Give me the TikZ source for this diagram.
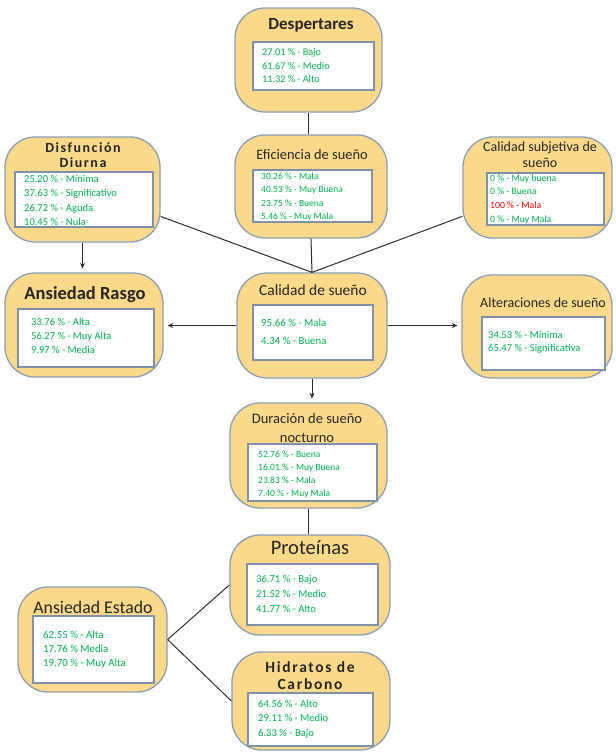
\documentclass[tikz,border=0pt]{standalone}
\usepackage{fontspec}
\setmainfont{Carlito}
\newfontfamily\spacedfont[LetterSpace=11]{Carlito}
\usetikzlibrary{arrows.meta}

\definecolor{panelfill}{RGB}{250,217,138}
\definecolor{panelline}{RGB}{140,158,182}
\definecolor{insetline}{RGB}{128,145,170}
\definecolor{statgreen}{RGB}{0,176,80}
\definecolor{alertred}{RGB}{255,0,0}
\definecolor{linkgray}{RGB}{45,45,45}
\definecolor{titleink}{RGB}{38,38,38}

\tikzset{
  panel/.style={draw=panelline, fill=panelfill, line width=1.3pt, rounded corners=30pt, inner sep=0pt},
  inset/.style={draw=insetline, fill=white, line width=1.1pt, inner sep=0pt},
  title/.style={text=titleink, inner sep=0pt, align=center},
  stat/.style={text=statgreen, inner sep=0pt},
  link/.style={draw=linkgray, line width=1pt},
  arrowlink/.style={link, -{Stealth[length=5.5pt,width=5pt]}, shorten >=4pt}
}

% rows of percentages: name, x, first baseline, spacing, font size, entries
\newcommand\statlist[6]{%
  \foreach \entry [count=\k] in {#6}{%
    \node[stat, font=\fontsize{#5}{#5}\selectfont, anchor=base west] (#1-\k) at (#2,{#3+(\k-1)*#4}) {\entry};%
  }%
}

\begin{document}
\begin{tikzpicture}[x=1pt,y=-1pt]
\useasboundingbox (0,0) rectangle (616,753);

% ---- panels ----
\node[panel, minimum width=147pt, minimum height=104pt] (desp) at (308.5,60) {};
\node[panel, minimum width=155pt, minimum height=105pt] (disf) at (82.5,189.5) {};
\node[panel, minimum width=152pt, minimum height=103pt] (efic) at (311,186.5) {};
\node[panel, minimum width=149pt, minimum height=101pt] (calsub) at (537.5,187.5) {};
\node[panel, minimum width=158pt, minimum height=104pt] (rasgo) at (84,325) {};
\node[panel, minimum width=150pt, minimum height=105pt] (calidad) at (312,325.5) {};
\node[panel, minimum width=150pt, minimum height=103pt] (alter) at (537,326.5) {};
\node[panel, minimum width=157pt, minimum height=105pt] (dur) at (308.5,455.5) {};
\node[panel, minimum width=160pt, minimum height=100pt] (prot) at (310,585) {};
\node[panel, minimum width=149pt, minimum height=105pt] (estado) at (92.5,639.5) {};
\node[panel, minimum width=158pt, minimum height=98pt] (hidr) at (311,701) {};

% ---- white insets ----
\node[inset, minimum width=121pt, minimum height=48pt] (desp-in) at (313.5,66) {};
\node[inset, minimum width=138pt, minimum height=55pt] (disf-in) at (84,199.5) {};
\node[inset, minimum width=119pt, minimum height=52pt] (efic-in) at (312.5,196) {};
\node[inset, minimum width=117pt, minimum height=52pt] (calsub-in) at (545.5,199) {};
\node[inset, minimum width=136pt, minimum height=58pt] (rasgo-in) at (86,338) {};
\node[inset, minimum width=120pt, minimum height=55pt] (calidad-in) at (313,332.5) {};
\node[inset, minimum width=123pt, minimum height=53pt] (alter-in) at (543.5,343.5) {};
\node[inset, minimum width=129pt, minimum height=57pt] (dur-in) at (312.5,472.5) {};
\node[inset, minimum width=131pt, minimum height=61pt] (prot-in) at (312.5,594.5) {};
\node[inset, minimum width=121pt, minimum height=67pt] (estado-in) at (93.5,649.5) {};
\node[inset, minimum width=125pt, minimum height=53pt] (hidr-in) at (310.5,719.5) {};

% ---- titles ----
\node[title, font=\fontsize{17}{17}\selectfont\bfseries] (desp-t) at (311,25) {Despertares};
\node[title, font=\spacedfont\fontsize{14}{15}\selectfont\bfseries] (disf-t) at (83,155.5) {Disfunción\\Diurna};
\node[title, font=\fontsize{14.4}{14.4}\selectfont] (efic-t) at (312,155) {Eficiencia de sueño};
\node[title, font=\fontsize{14}{16}\selectfont] (calsub-t) at (540,155) {Calidad subjetiva de\\sueño};
\node[title, font=\fontsize{18.5}{18.5}\selectfont\bfseries] (rasgo-t) at (85,295) {Ansiedad Rasgo};
\node[title, font=\fontsize{15.5}{15.5}\selectfont] (calidad-t) at (313,290) {Calidad de sueño};
\node[title, font=\fontsize{14}{14}\selectfont] (alter-t) at (543,303) {Alteraciones de sueño};
\node[title, font=\fontsize{14.5}{19}\selectfont] (dur-t) at (307,428.5) {Duración de sueño\\nocturno};
\node[title, font=\fontsize{20.5}{20.5}\selectfont] (prot-t) at (310,548) {Proteínas};
\node[title, font=\fontsize{17.8}{17.8}\selectfont] (estado-t) at (93,607) {Ansiedad Estado};
\node[title, font=\spacedfont\fontsize{15.5}{17}\selectfont\bfseries] (hidr-t) at (310,675.5) {Hidratos de\\Carbono};

% ---- percentages ----
\statlist{desp-s}{262}{55.3}{13.8}{10.2}{27.01 \% - Bajo, 61.67 \% - Medio, 11.32 \% - Alto}
\statlist{disf-s}{24}{182.4}{14.3}{10.5}{25.20 \% - Mínima, 37.63 \% - Significativo, 26.72 \% - Aguda, 10.45 \% - Nula}
\statlist{efic-s}{261}{179}{13.6}{9.5}{30.26 \% - Mala, 40.53 \% - Muy Buena, 23.75 \% - Buena, 5.46 \% - Muy Mala}
\statlist{calsub-s}{490}{181.1}{13.7}{9.7}{0 \% - Muy buena, 0 \% - Buena, \textcolor{alertred}{100 \% - Mala}, 0 \% - Muy Mala}
\statlist{rasgo-s}{31}{325.4}{14}{10.5}{33.76 \% - Alta, 56.27 \% - Muy Alta, 9.97 \% - Media}
\statlist{calidad-s}{261}{326.5}{18}{10.8}{95.66 \% - Mala, 4.34 \% - Buena}
\statlist{alter-s}{488}{338.4}{13.5}{10.5}{34.53 \% - Mínima, 65.47 \% - Significativa}
\statlist{dur-s}{258}{457}{13.3}{9.5}{52.76 \% - Buena, 16.01 \% - Muy Buena, 23.83 \% - Mala, 7.40 \% - Muy Mala}
\statlist{prot-s}{256}{582.4}{15}{10.6}{36.71 \% - Bajo, 21.52 \% - Medio, 41.77 \% - Alto}
\statlist{estado-s}{43}{638.5}{14}{10.8}{62.55 \% - Alta, 17.76 \% Media, 19.70 \% - Muy Alta}
\statlist{hidr-s}{258}{707.4}{14.5}{10.6}{64.56 \% - Alto, 29.11 \% - Medio, 6.33 \% - Bajo}

% ---- connectors ----
\draw[link] (desp.south) -- (desp.south |- efic.north);
\draw[link] (efic.south) -- (calidad.north);
\draw[link] (disf.-19) -- (calidad.north);
\draw[link] (calsub.201) -- (calidad.north);
\draw[arrowlink] (disf.south) -- (disf.south |- rasgo.north);
\draw[arrowlink] (calidad.west) -- (calidad.west -| rasgo.east);
\draw[arrowlink] (calidad.east) -- (calidad.east -| alter.west);
\draw[arrowlink] (calidad.south) -- (calidad.south |- dur.north);
\draw[link] (dur.south) -- (dur.south |- prot.north);
\draw[link] (estado.east) -- (prot.west);
\draw[link] (estado.east) -- (hidr.west);
\end{tikzpicture}
\end{document}
